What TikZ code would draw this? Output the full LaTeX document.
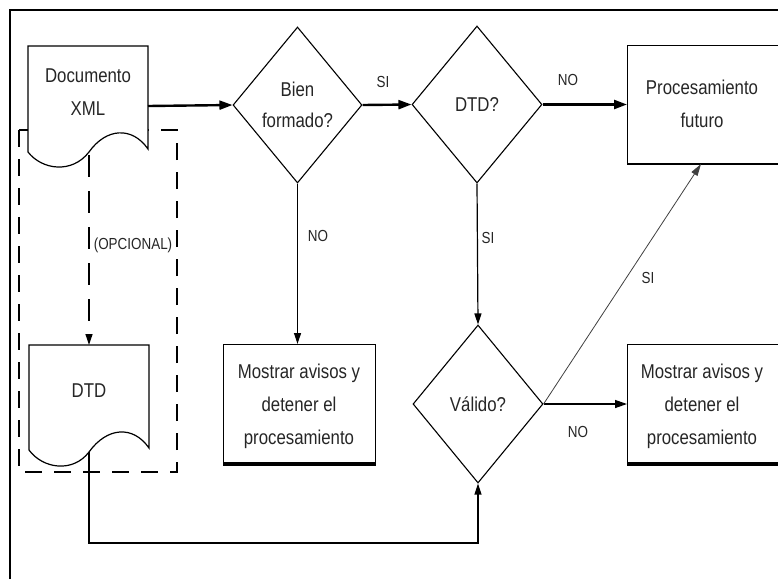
\documentclass[tikz,border=0pt]{standalone}
\usepackage{fontspec}
\setmainfont{Liberation Sans}[FakeStretch=0.84]
\usetikzlibrary{arrows.meta,shapes.geometric}
\begin{document}
\begin{tikzpicture}[x=1pt,y=-1pt,
  txt/.style={font=\fontsize{20}{33}\selectfont, align=center, text=black!85, inner sep=0pt},
  lbl/.style={font=\fontsize{16}{18}\selectfont, text=black!85, inner sep=0pt},
  dia/.style={diamond, draw, line width=1.1pt, minimum width=130pt, minimum height=157pt, inner sep=0pt,
              font=\fontsize{20}{31}\selectfont, align=center, text=black!85},
  boxn/.style={draw, line width=1.2pt, anchor=north west, inner sep=0pt},
  thin/.style={line width=1.2pt, -{Triangle[length=11pt,width=7pt]}},
  thick/.style={line width=2.4pt, -{Triangle[length=13pt,width=9pt]}},
  docline/.style={line width=1.2pt, fill=white}
]
\useasboundingbox (0,0) rectangle (778,579);
\clip (0,0) rectangle (778,579);
\fill[white] (0,0) rectangle (778,579);
% outer frame
\draw[line width=2pt] (10,579) -- (10,10) -- (790,10);

% dashed optional region
\draw[line width=1.3pt, dash pattern=on 17pt off 12pt] (19,130) rectangle (177,472);

% Documento XML shape
\draw[docline] (28,46) -- (148,46) -- (148,149)
  .. controls (132,126) and (106,128) .. (89,152)
  .. controls (72,174) and (42,170) .. (28,152) -- cycle;
\node[txt] (docxml) at (88,92) {Documento\\XML};
\coordinate (docE) at (148,106);
\coordinate (docout) at (89,155);

% DTD shape
\draw[docline] (29,345) -- (149,345) -- (149,448)
  .. controls (133,425) and (107,427) .. (89,452)
  .. controls (73,473) and (43,469) .. (29,450) -- cycle;
\node[txt] (dtd) at (89,391) {DTD};
\coordinate (dtdin) at (89,345);
\coordinate (dtdout) at (89,452);
\coordinate (turn) at (89,543);

% diamonds
\node[dia, minimum width=129pt, minimum height=156pt] (bien) at (297.5,105) {Bien\\formado?};
\node[dia] (dtdq) at (477,104.5) {DTD?};
\node[dia, minimum height=158pt] (valido) at (478,404) {Válido?};

% boxes
\node[boxn, minimum width=152pt, minimum height=119pt] (m1) at (223,344) {};
\draw[line width=3.5pt] (m1.south west) -- (m1.south east);
\node[txt] (m1t) at (299,406) {Mostrar avisos y\\detener el\\procesamiento};

\node[boxn, minimum width=170pt, minimum height=118pt] (proc) at (627,45) {};
\draw[line width=2pt] (proc.south west) -- (proc.south east);
\node[txt] (proct) at (702,104) {Procesamiento\\futuro};
\coordinate (procin) at (701,164);

\node[boxn, minimum width=170pt, minimum height=119pt] (m2) at (627,344) {};
\draw[line width=3.5pt] (m2.south west) -- (m2.south east);
\node[txt] (m2t) at (702,406) {Mostrar avisos y\\detener el\\procesamiento};

% connectors
\draw[thick] (docE) -- (bien.west);
\draw[thick] (bien.east) -- (dtdq.west);
\draw[thick] (dtdq.east) -- (dtdq.east -| proc.west);
\draw[thin] (bien.south) -- (bien.south |- m1.north);
\draw[thin] (dtdq.south) -- (valido.north);
\draw[line width=1.3pt, -{Triangle[length=12pt,width=8pt]}] (valido.east) -- (valido.east -| m2.west);
\draw[line width=0.8pt, black!75, -{Triangle[length=12pt,width=7pt]}] (valido.east) -- (procin);
\draw[line width=1.2pt, dash pattern=on 22pt off 14pt, -{Triangle[length=11pt,width=7pt]}] (docout) -- (dtdin);
\draw[thin] (dtdout) -- (turn) -| (valido.south);

% labels
\node[lbl] (l1) at (383,82) {SI};
\node[lbl] (l2) at (568,80) {NO};
\node[lbl] (l3) at (318,236) {NO};
\node[lbl] (l4) at (488,238) {SI};
\node[lbl] (l5) at (648,278) {SI};
\node[lbl] (l6) at (578,432) {NO};
\node[lbl] (l7) at (133,245) {(OPCIONAL)};
\end{tikzpicture}
\end{document}
